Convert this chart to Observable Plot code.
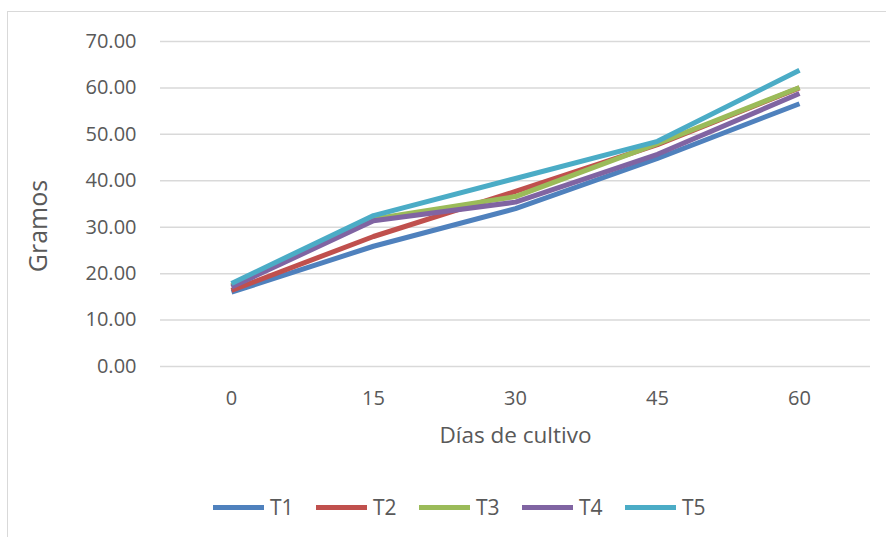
<!DOCTYPE html>
<html>
<head>
<meta charset="utf-8">
<script src="https://cdn.jsdelivr.net/npm/d3@7"></script>
<script src="https://cdn.jsdelivr.net/npm/@observablehq/plot@0.6"></script>
<style>
  body { margin: 0; background: #fff; font-family: "Open Sans", sans-serif; }
  #wrap { position: relative; width: 886px; height: 537px; overflow: hidden; background: #fff; }
  #frame { position: absolute; left: 7px; top: 11px; width: 950px; height: 600px; border: 1px solid #d9d9d9; box-sizing: border-box; }
  #chart { position: absolute; left: 0; top: 0; }
  #legend { position: absolute; left: 213px; top: 494px; height: 26px; display: flex; align-items: center; }
  .item { display: flex; align-items: center; width: 103px; }
  .sw { width: 51px; height: 5px; margin-right: 6px; }
  .lab { font-size: 21px; color: #595959; line-height: 26px; }
</style>
</head>
<body>
<div id="wrap">
  <div id="frame"></div>
  <div id="chart"></div>
  <div id="legend"></div>
</div>
<script>
// ---- data ----
const days = [0, 15, 30, 45, 60];
const seriesNames = ["T1", "T2", "T3", "T4", "T5"];
const T1 = [16.0, 25.9, 34.0, 44.8, 56.6];
const T2 = [16.4, 28.0, 37.7, 47.8, 60.0];
const T3 = [17.4, 31.8, 36.6, 48.0, 60.1];
const T4 = [17.1, 31.4, 35.4, 45.7, 58.8];
const T5 = [17.9, 32.5, 40.5, 48.5, 63.8];
const yTicks = [0, 10, 20, 30, 40, 50, 60, 70];
const colors = ["#4F81BD", "#C0504D", "#9BBB59", "#8064A2", "#4BACC6"];

const seriesValues = [T1, T2, T3, T4, T5];
const data = [];
seriesNames.forEach((name, i) => {
  days.forEach((d, j) => data.push({ series: name, day: d, value: seriesValues[i][j] }));
});

const chart = Plot.plot({
  width: 886,
  height: 470,
  marginLeft: 160,
  marginRight: 16,
  marginTop: 41,
  marginBottom: 104,
  style: { fontFamily: "Open Sans, sans-serif", color: "#595959", background: "transparent", overflow: "visible" },
  x: { type: "point", domain: days, padding: 0.5 },
  y: { domain: [0, 70] },
  color: { domain: seriesNames, range: colors },
  marks: [
    Plot.ruleY(yTicks, { stroke: "#d9d9d9", strokeWidth: 1.5 }),
    Plot.axisY(yTicks, { tickSize: 0, tickPadding: 24, tickFormat: d3.format(".2f"), fontSize: 20, label: null, fill: "#595959" }),
    Plot.axisX(days, { tickSize: 0, tickPadding: 24, fontSize: 20, label: null, fill: "#595959" }),
    Plot.line(data, { x: "day", y: "value", z: "series", stroke: "series", strokeWidth: 5, strokeLinejoin: "round", strokeLinecap: "butt" }),
    Plot.text(["Gramos"], { frameAnchor: "left", textAnchor: "middle", rotate: -90, dx: -122, dy: 22, fontSize: 25, fill: "#595959" }),
    Plot.text(["Días de cultivo"], { frameAnchor: "bottom", dy: 76, fontSize: 22.5, fill: "#595959" })
  ]
});
document.getElementById("chart").appendChild(chart);

const legend = document.getElementById("legend");
seriesNames.forEach((name, i) => {
  const item = document.createElement("div");
  item.className = "item";
  const sw = document.createElement("div");
  sw.className = "sw";
  sw.style.background = colors[i];
  const lab = document.createElement("span");
  lab.className = "lab";
  lab.textContent = name;
  item.appendChild(sw);
  item.appendChild(lab);
  legend.appendChild(item);
});
</script>
</body>
</html>
